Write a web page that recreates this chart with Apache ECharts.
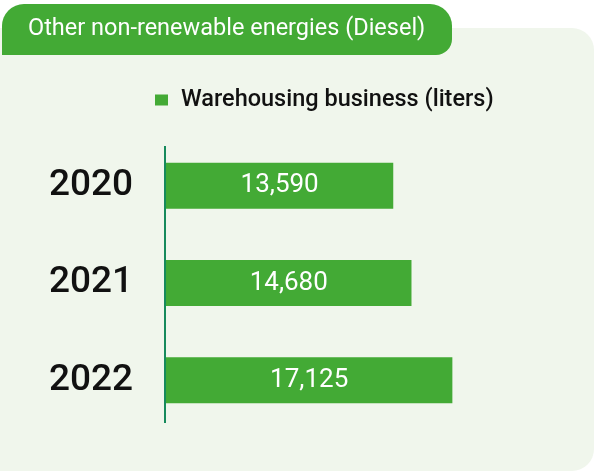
<!DOCTYPE html>
<html lang="en">
<head>
	<meta charset="UTF-8">
	<title>Diesel</title>
	<style type="text/css">
		html, body { margin: 0; padding: 0; background: #fff; }
		#main { width: 594px; height: 471px; }
	</style>
	<script src="https://cdn.jsdelivr.net/npm/echarts@6/dist/echarts.min.js"></script>
</head>
<body>
	<div id="main"></div>
	<script type="text/javascript">
	var years = ['2020', '2021', '2022'];
	var liters = [13590, 14680, 17125];
	var seriesName = 'Warehousing business (liters)';
	var titleText = 'Other non-renewable energies (Diesel)';

	var green = '#43aa35';
	var myChart = echarts.init(document.getElementById('main'));
	var option = {
		backgroundColor: '#ffffff',
		textStyle: { fontFamily: 'Roboto' },
		title: {
			text: titleText,
			left: 28,
			top: 17,
			padding: 0,
			textStyle: { color: '#fff', fontSize: 23.5, fontWeight: 'normal', fontFamily: 'Roboto' }
		},
		legend: {
			data: [seriesName],
			left: 155,
			top: 88,
			padding: 0,
			icon: 'rect',
			itemWidth: 13,
			itemHeight: 11,
			textStyle: { color: '#111', fontSize: 23.5, fontWeight: 500, padding: [0, 0, 0, 8] }
		},
		graphic: [
			{ type: 'rect', z: -10, shape: { x: 0, y: 28, width: 594, height: 443, r: [0, 22, 22, 0] }, style: { fill: '#f0f6ec' } },
			{ type: 'rect', z: -5, shape: { x: 2, y: 4, width: 450, height: 51, r: [22, 22, 16, 0] }, style: { fill: green } },
			{ type: 'line', z: 10, shape: { x1: 165, y1: 146, x2: 165, y2: 423 }, style: { stroke: '#168a5c', lineWidth: 2 } }
		],
		grid: { left: 166, top: 137, height: 292, width: 301 },
		xAxis: {
			type: 'value', min: 0, max: 18000,
			show: false
		},
		yAxis: {
			type: 'category',
			data: years,
			inverse: true,
			axisLine: { show: false },
			axisTick: { show: false },
			axisLabel: { color: '#111', fontSize: 37, fontWeight: 500, margin: 33 }
		},
		series: [{
			name: seriesName,
			type: 'bar',
			data: liters,
			barWidth: 46,
			itemStyle: { color: green },
			label: {
				show: true,
				position: 'inside',
				color: '#fff',
				fontSize: 26,
				formatter: function (p) { return p.value.toLocaleString('en-US'); }
			}
		}]
	};
	myChart.setOption(option);
	</script>
</body>
</html>
